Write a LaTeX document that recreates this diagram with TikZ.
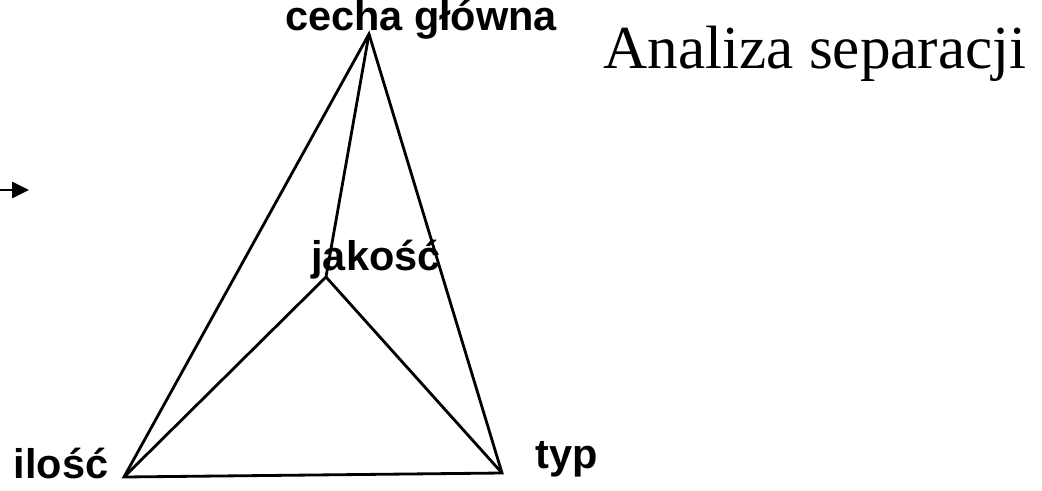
\documentclass[tikz,border=0pt]{standalone}
\usepackage{fontspec}
\setmainfont{Liberation Serif}
\newfontfamily\lsans{Liberation Sans}
\usetikzlibrary{arrows.meta}

\begin{document}
\begin{tikzpicture}[
    etykieta/.style={font=\lsans\bfseries\fontsize{11.8}{14}\selectfont, inner sep=0pt, anchor=base},
    krawedz/.style={line width=0.8pt, line join=miter}
  ]

    \useasboundingbox (0,0) rectangle (10.42,4.90);

    % wierzcholki
    \coordinate (glowna) at (3.69,4.56);
    \coordinate (jakosc) at (3.26,2.13);
    \coordinate (ilosc) at (1.24,0.13);
    \coordinate (typ) at (5.02,0.17);

    % krawedzie
    \draw[krawedz] (ilosc) -- (glowna) -- (typ) -- cycle;
    \draw[krawedz] (glowna) -- (jakosc);
    \draw[krawedz] (ilosc) -- (jakosc) -- (typ);

    % etykiety
    \node[etykieta] (tglowna) at (4.21,4.60) {cecha główna};
    \node[etykieta] (tjakosc) at (3.76,2.20) {jakość};
    \node[etykieta] (tilosc) at (0.61,0.12) {ilość};
    \node[etykieta] (ttyp) at (5.67,0.22) {typ};

    % tytul
    \node[font=\fontsize{17.4}{20}\selectfont, inner sep=0pt, anchor=base] (tytul) at (8.15,4.22) {Analiza separacji};

    % strzalka
    \coordinate (start) at (0,3.00);
    \coordinate (koniec) at (0.29,3.00);
    \draw[line width=0.7pt, -{Triangle[length=4.8pt,width=4.6pt]}] (start) -- (koniec);

\end{tikzpicture}
\end{document}
